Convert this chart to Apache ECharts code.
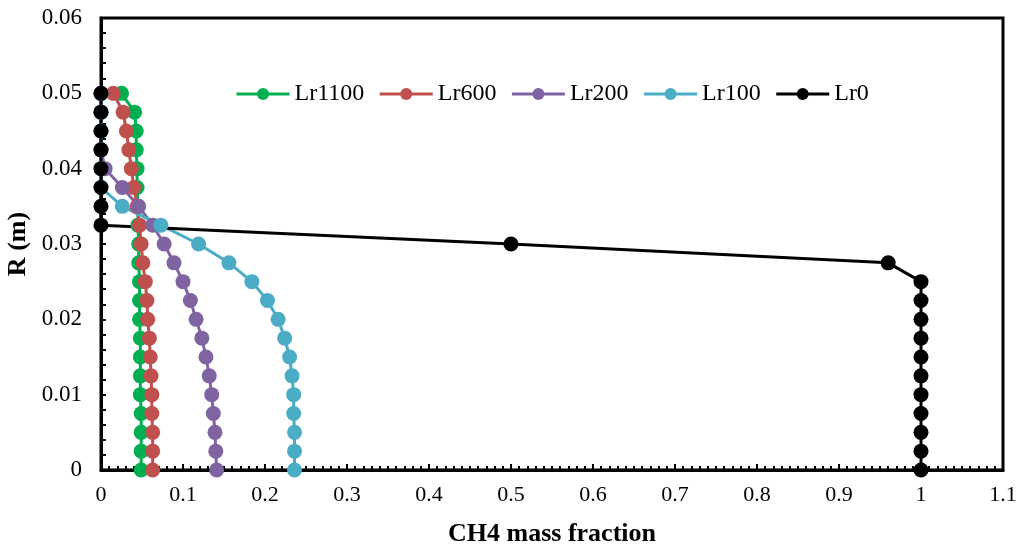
<!DOCTYPE html>
<html>
<head>
<meta charset="utf-8">
<script src="https://cdn.jsdelivr.net/npm/echarts@6/dist/echarts.min.js"></script>
<style>
  html, body { margin: 0; padding: 0; background: #fff; }
  #chart { width: 1022px; height: 546px; }
</style>
</head>
<body>
<div id="chart"></div>
<script>
// radius positions (m), top to bottom
const radius = [0.05, 0.0475, 0.045, 0.0425, 0.04, 0.0375, 0.035, 0.0325, 0.03, 0.0275,
  0.025, 0.0225, 0.02, 0.0175, 0.015, 0.0125, 0.01, 0.0075, 0.005, 0.0025, 0];

// CH4 mass fraction
const lr1100 = [0.025, 0.041, 0.043, 0.043, 0.044, 0.044, 0.045, 0.045, 0.046, 0.046,
  0.047, 0.047, 0.047, 0.048, 0.048, 0.048, 0.048, 0.049, 0.049, 0.049, 0.049];
const lr600 = [0.015, 0.027, 0.031, 0.034, 0.037, 0.040, 0.044, 0.047, 0.049, 0.051,
  0.054, 0.056, 0.057, 0.059, 0.060, 0.061, 0.062, 0.062, 0.063, 0.063, 0.063];
const lr200 = [0, 0, 0, 0, 0.005, 0.026, 0.046, 0.063, 0.077, 0.089,
  0.100, 0.109, 0.116, 0.123, 0.128, 0.132, 0.135, 0.137, 0.139, 0.140, 0.141];
const lr100 = [0, 0, 0, 0, 0, 0, 0.026, 0.073, 0.119, 0.156,
  0.184, 0.203, 0.216, 0.224, 0.230, 0.233, 0.235, 0.235, 0.236, 0.236, 0.236];
const lr0 = [0, 0, 0, 0, 0, 0, 0, 0, 0.5, 0.96,
  1, 1, 1, 1, 1, 1, 1, 1, 1, 1, 1];

const seriesNames = ['Lr1100', 'Lr600', 'Lr200', 'Lr100', 'Lr0'];
const seriesData = [lr1100, lr600, lr200, lr100, lr0];
const colors = ['#00B050', '#C0504D', '#8064A2', '#4BACC6', '#000000'];

const font = 'Liberation Serif, Times New Roman, serif';

const chart = echarts.init(document.getElementById('chart'));

const series = seriesNames.map((name, i) => ({
  name,
  type: 'line',
  data: seriesData[i].map((x, j) => [x, radius[j]]),
  symbol: 'circle',
  symbolSize: 15,
  clip: false,
  itemStyle: { color: colors[i] },
  lineStyle: { color: colors[i], width: 3 },
  emphasis: { disabled: true }
}));

chart.setOption({
  animation: false,
  backgroundColor: '#fff',
  grid: {
    left: 101, right: 19, top: 18, bottom: 76,
    outerBoundsMode: 'none',
    show: true, borderColor: '#000', borderWidth: 3
  },
  legend: {
    top: 77,
    left: 230,
    data: seriesNames,
    itemWidth: 53,
    itemHeight: 15,
    itemGap: 14,
    lineStyle: { width: 3 },
    textStyle: { fontFamily: font, fontSize: 24, color: '#000' }
  },
  xAxis: {
    type: 'value',
    min: 0, max: 1.1, interval: 0.1,
    name: 'CH4 mass fraction',
    nameLocation: 'middle',
    nameGap: 51,
    nameTextStyle: { fontFamily: font, fontSize: 26, fontWeight: 'bold', color: '#000' },
    axisLine: { show: true, lineStyle: { color: '#000', width: 3 } },
    axisTick: { show: true, inside: true, length: 6, lineStyle: { color: '#000', width: 2 } },
    minorTick: { show: true, splitNumber: 10, length: 4, lineStyle: { color: '#000', width: 2 } },
    splitLine: { show: false },
    axisLabel: { fontFamily: font, fontSize: 22, color: '#000', margin: 14 }
  },
  yAxis: {
    type: 'value',
    min: 0, max: 0.06, interval: 0.01,
    name: 'R (m)',
    nameLocation: 'middle',
    nameGap: 64,
    nameTextStyle: { fontFamily: font, fontSize: 26, fontWeight: 'bold', color: '#000' },
    axisLine: { show: true, lineStyle: { color: '#000', width: 3 } },
    axisTick: { show: true, inside: true, length: 5, lineStyle: { color: '#000', width: 2 } },
    minorTick: { show: true, splitNumber: 5, length: 5, lineStyle: { color: '#000', width: 2 } },
    splitLine: { show: false },
    axisLabel: { fontFamily: font, fontSize: 23, color: '#000', margin: 19 }
  },
  series
});
</script>
</body>
</html>
